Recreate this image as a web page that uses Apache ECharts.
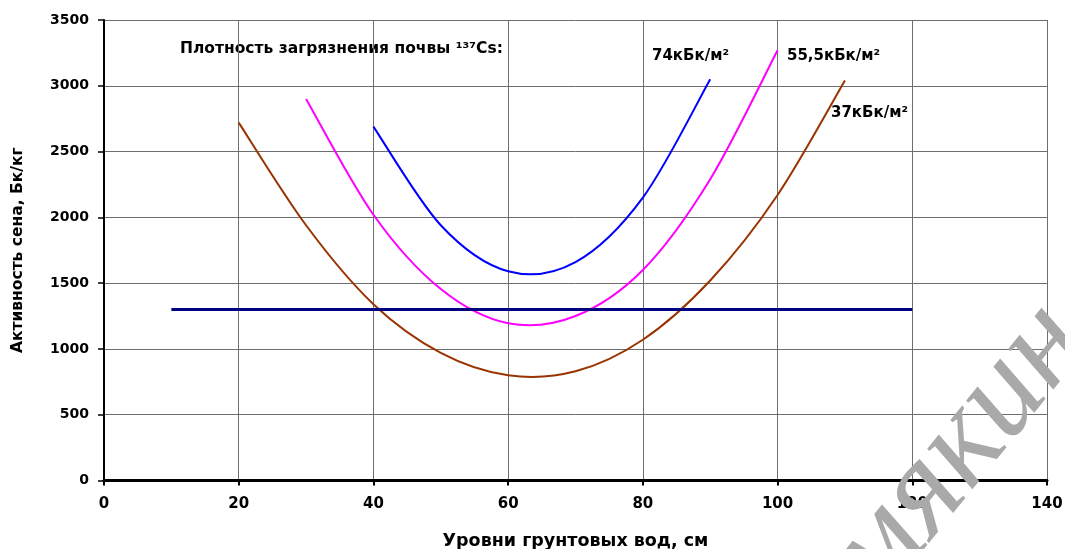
<!DOCTYPE html>
<html>
<head>
<meta charset="utf-8">
<script src="https://cdn.jsdelivr.net/npm/echarts@6/dist/echarts.min.js"></script>
<style>
html,body{margin:0;padding:0;background:#fff;overflow:hidden;}
#chart{width:1065px;height:549px;}
</style>
</head>
<body>
<div id="chart"></div>
<script>
// Data
const x37 = [20, 30, 40, 50, 60, 70, 80, 90, 100, 110];
const y37 = [2720, 1940, 1340, 970, 800, 830, 1070, 1520, 2170, 3040];
const x555 = [30, 40, 50, 60, 70, 80, 90, 100];
const y555 = [2900, 2020, 1455, 1195, 1250, 1600, 2290, 3270];
const x74 = [40, 50, 60, 70, 80, 90];
const y74 = [2690, 1940, 1590, 1660, 2150, 3050];
const xLimit = [10, 120];
const yLimit = [1300, 1300];

const seriesNames = ['37кБк/м²', '55,5кБк/м²', '74кБк/м²', 'limit'];
const legendTitle = 'Плотность загрязнения почвы ¹³⁷Cs:';
const xTitle = 'Уровни грунтовых вод, см';
const yTitle = 'Активность сена, Бк/кг';
const watermark = 'мякин';

function pairs(xs, ys) { return xs.map((x, i) => [x, ys[i]]); }

// Smoothed curve (Catmull-Rom style, like a spreadsheet "smoothed line"),
// drawn through points placed by the chart's own axes via api.coord.
function smoothSeries(name, xs, ys, color) {
  const data = pairs(xs, ys);
  return {
    name: name, type: 'custom', data: data, z: 3,
    encode: {x: 0, y: 1},
    renderItem: function (params, api) {
      if (params.dataIndex !== 0) return null;
      const p = data.map(d => api.coord(d));
      let d = 'M' + p[0][0] + ' ' + p[0][1];
      for (let i = 0; i < p.length - 1; i++) {
        const p0 = p[Math.max(i - 1, 0)], p1 = p[i], p2 = p[i + 1], p3 = p[Math.min(i + 2, p.length - 1)];
        const c1x = p1[0] + (p2[0] - p0[0]) / 6, c1y = p1[1] + (p2[1] - p0[1]) / 6;
        const c2x = p2[0] - (p3[0] - p1[0]) / 6, c2y = p2[1] - (p3[1] - p1[1]) / 6;
        d += ' C' + c1x + ' ' + c1y + ' ' + c2x + ' ' + c2y + ' ' + p2[0] + ' ' + p2[1];
      }
      return {type: 'path', shape: {pathData: d}, style: {stroke: color, fill: null, lineWidth: 2}};
    }
  };
}

const chart = echarts.init(document.getElementById('chart'), null, {renderer: 'canvas'});
const labelFont = {fontFamily: 'DejaVu Sans', fontWeight: 'bold', fontSize: 14, color: '#000'};
const annFont = {fontFamily: 'DejaVu Sans', fontWeight: 'bold', fontSize: 15, fill: '#000'};

chart.setOption({
  animation: false,
  backgroundColor: '#fff',
  grid: {left: 104, right: 18, top: 20, bottom: 68.5, containLabel: false, outerBoundsMode: 'none'},
  xAxis: {
    type: 'value', min: 0, max: 140, interval: 20,
    name: xTitle, nameLocation: 'middle', nameGap: 52,
    nameTextStyle: {fontFamily: 'DejaVu Sans', fontWeight: 'bold', fontSize: 17.5, color: '#000'},
    axisLine: {show: true, lineStyle: {color: '#000', width: 3}},
    axisTick: {show: true, length: 5, lineStyle: {color: '#000', width: 2}},
    axisLabel: Object.assign({margin: 16, formatter: v => String(v)}, labelFont, {fontSize: 15}),
    splitLine: {show: true, lineStyle: {color: '#6e6e6e', width: 1}}
  },
  yAxis: {
    type: 'value', min: 0, max: 3500, interval: 500,
    name: yTitle, nameLocation: 'middle', nameGap: 78, nameRotate: 90,
    nameTextStyle: {fontFamily: 'DejaVu Sans', fontWeight: 'bold', fontSize: 15.5, color: '#000'},
    axisLine: {show: true, lineStyle: {color: '#000', width: 2}},
    axisTick: {show: true, length: 6, lineStyle: {color: '#000', width: 1.5}},
    axisLabel: Object.assign({margin: 15, formatter: v => String(v)}, labelFont),
    splitLine: {show: true, lineStyle: {color: '#6e6e6e', width: 1}}
  },
  series: [
    smoothSeries(seriesNames[0], x37, y37, '#993300'),
    smoothSeries(seriesNames[1], x555, y555, '#ff00ff'),
    smoothSeries(seriesNames[2], x74, y74, '#0000ff'),
    {name: seriesNames[3], type: 'line', showSymbol: false, data: pairs(xLimit, yLimit),
     lineStyle: {color: '#000080', width: 3}, z: 4}
  ],
  graphic: [
    {type: 'text', left: 180, top: 41, style: Object.assign({text: legendTitle}, annFont, {fontSize: 15.5})},
    {type: 'text', left: 652, top: 49, style: Object.assign({text: seriesNames[2]}, annFont)},
    {type: 'text', left: 787, top: 49, style: Object.assign({text: seriesNames[1]}, annFont)},
    {type: 'text', left: 831, top: 106, style: Object.assign({text: seriesNames[0]}, annFont)},
    {type: 'text', x: 958, y: 452, rotation: 51 * Math.PI / 180, z: 100,
     style: {text: watermark, fontFamily: 'Liberation Serif', fontStyle: 'italic', fontSize: 132,
             fill: '#a9a9a9', align: 'center', verticalAlign: 'middle'}}
  ]
});
</script>
</body>
</html>
